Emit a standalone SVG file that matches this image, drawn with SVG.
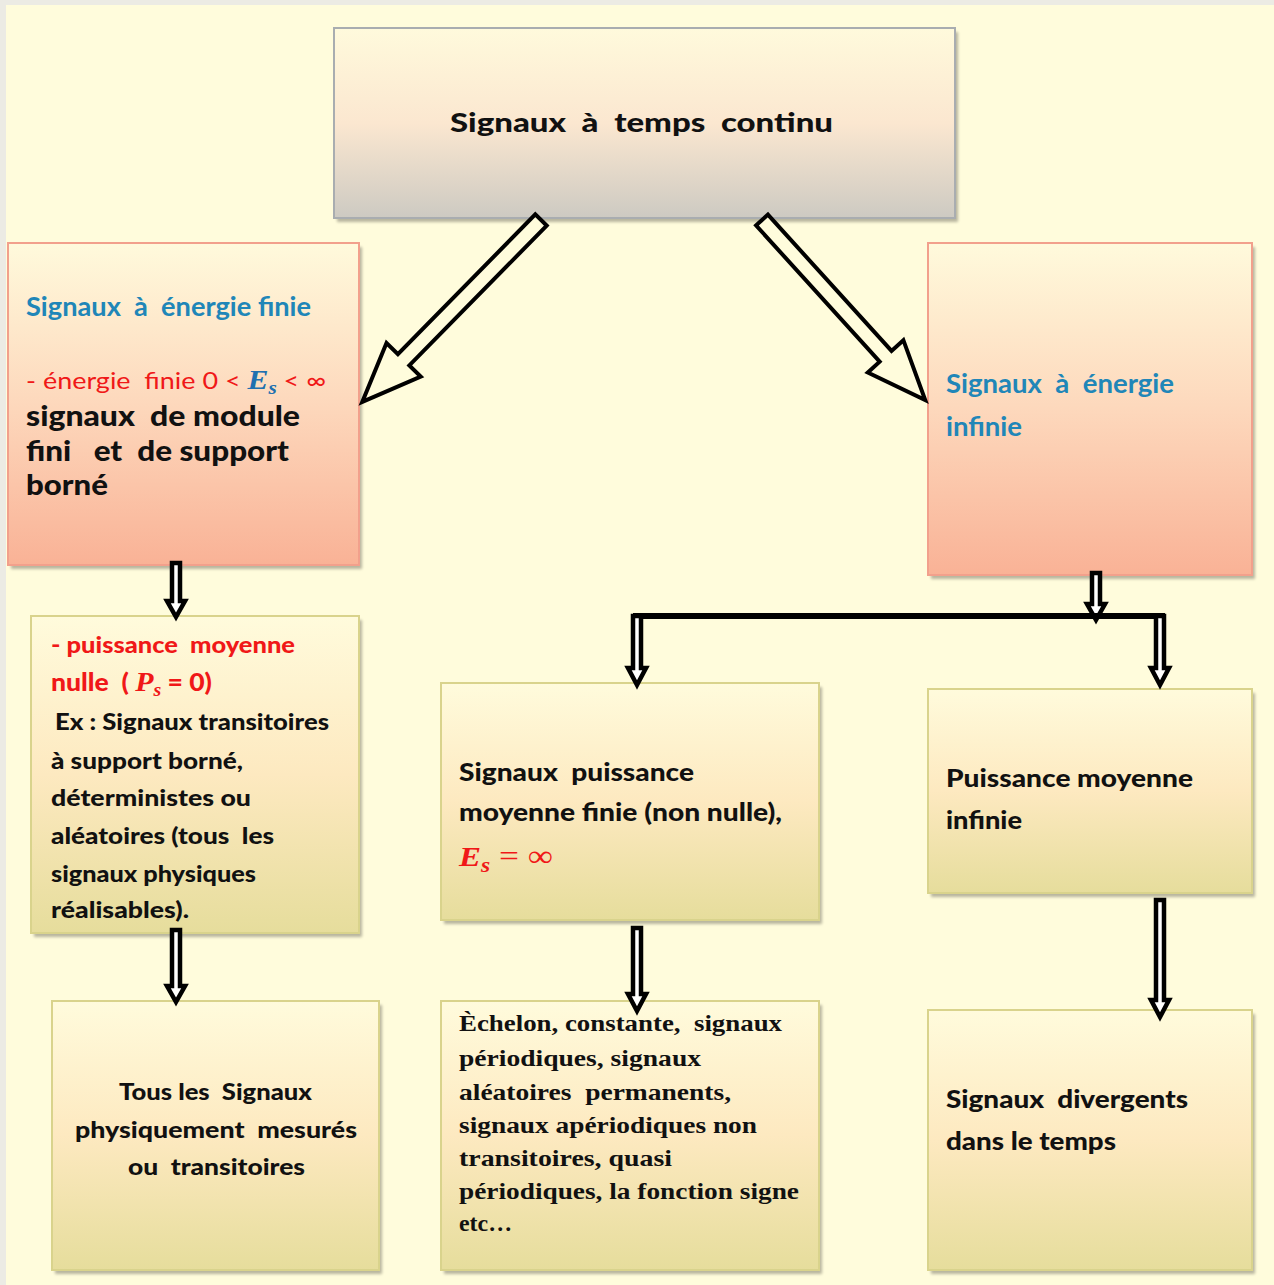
<svg xmlns="http://www.w3.org/2000/svg" width="1274" height="1285" viewBox="0 0 1274 1285">
<defs>
<linearGradient id="gTop" x1="0" y1="0" x2="0" y2="1">
<stop offset="0" stop-color="#fffadc"/><stop offset="0.5" stop-color="#fbe7d0"/><stop offset="1" stop-color="#cdcac2"/>
</linearGradient>
<linearGradient id="gPink" x1="0" y1="0" x2="0" y2="1">
<stop offset="0" stop-color="#fffadc"/><stop offset="0.5" stop-color="#fdd8bc"/><stop offset="1" stop-color="#f9b296"/>
</linearGradient>
<linearGradient id="gYel" x1="0" y1="0" x2="0" y2="1">
<stop offset="0" stop-color="#fffbdc"/><stop offset="0.5" stop-color="#fde9c0"/><stop offset="1" stop-color="#e6dd9c"/>
</linearGradient>
<filter id="blur" x="-5%" y="-5%" width="110%" height="110%"><feGaussianBlur stdDeviation="1.5"/></filter>
</defs>
<style>
.sh{fill:#000;opacity:0.28;filter:url(#blur)}
.top{fill:url(#gTop);stroke:#a9adb0;stroke-width:2}
.pink{fill:url(#gPink);stroke:#f2a08c;stroke-width:2}
.yel{fill:url(#gYel);stroke:#d9d38c;stroke-width:2}
text{font-family:Lato,"Noto Sans",sans-serif;font-weight:900;white-space:pre}
.blue{fill:#2086b8;font-size:26px;font-weight:bold}
.blk{fill:#111;font-size:25px}
.red{fill:#f01818}
.math{font-family:"Liberation Serif","DejaVu Serif",serif;font-style:italic;font-weight:bold}
.ser{font-family:"Liberation Serif","DejaVu Serif",serif;font-weight:bold;fill:#111;font-size:24px}
.big{fill:#fffcdc;stroke:#000;stroke-width:4;stroke-linejoin:miter}
.va{fill:#fff;stroke:#000;stroke-width:4.5;stroke-linejoin:miter}
</style>
<rect x="0" y="0" width="1274" height="1285" fill="#ecebe4"/>
<rect x="6" y="5" width="1268" height="1280" fill="#fffcdc"/>

<g id="n-top">
<rect class="sh" x="337" y="32" width="621" height="190"/>
<rect class="top" x="334" y="28" width="621" height="190"/>
<text x="450" y="132" textLength="383" lengthAdjust="spacingAndGlyphs" style="font-size:27px;fill:#111">Signaux  à  temps  continu</text>
</g>

<g id="n-finie">
<rect class="sh" x="11" y="247" width="351" height="322"/>
<rect class="pink" x="8" y="243" width="351" height="322"/>
<text class="blue" x="26" y="316" textLength="285" lengthAdjust="spacingAndGlyphs">Signaux  à  énergie finie</text>
<text x="26" y="389" textLength="300" lengthAdjust="spacingAndGlyphs" style="font-size:24px;font-weight:normal"><tspan class="red">- énergie  finie 0 &lt; </tspan><tspan class="math" fill="#2070b0" font-size="28">E</tspan><tspan class="math" fill="#2070b0" font-size="19" dy="5">s</tspan><tspan class="red" dy="-5"> &lt; ∞</tspan></text>
<text x="26" y="426" textLength="274" lengthAdjust="spacingAndGlyphs" style="font-size:29px;fill:#111">signaux  de module</text>
<text x="26" y="461" textLength="263" lengthAdjust="spacingAndGlyphs" style="font-size:29px;fill:#111">fini   et  de support</text>
<text x="26" y="495" textLength="82" lengthAdjust="spacingAndGlyphs" style="font-size:29px;fill:#111">borné</text>
</g>

<g id="n-infinie">
<rect class="sh" x="931" y="247" width="324" height="332"/>
<rect class="pink" x="928" y="243" width="324" height="332"/>
<text class="blue" x="946" y="393" textLength="228" lengthAdjust="spacingAndGlyphs">Signaux  à  énergie</text>
<text class="blue" x="946" y="436" textLength="76" lengthAdjust="spacingAndGlyphs">infinie</text>
</g>

<g id="n-nulle">
<rect class="sh" x="34" y="620" width="328" height="317"/>
<rect class="yel" x="31" y="616" width="328" height="317"/>
<text x="51" y="653" class="red" textLength="244" lengthAdjust="spacingAndGlyphs" style="font-size:23px">- puissance  moyenne</text>
<text x="51" y="691" class="red" textLength="161" lengthAdjust="spacingAndGlyphs" style="font-size:24px">nulle  ( <tspan class="math" font-size="27">P</tspan><tspan class="math" font-size="18" dy="5">s</tspan><tspan dy="-5"> = 0)</tspan></text>
<g style="font-size:23px;fill:#111">
<text x="55" y="730" textLength="274" lengthAdjust="spacingAndGlyphs">Ex : Signaux transitoires</text>
<text x="51" y="769" textLength="192" lengthAdjust="spacingAndGlyphs">à support borné,</text>
<text x="51" y="806" textLength="200" lengthAdjust="spacingAndGlyphs">déterministes ou</text>
<text x="51" y="844" textLength="223" lengthAdjust="spacingAndGlyphs">aléatoires (tous  les</text>
<text x="51" y="882" textLength="205" lengthAdjust="spacingAndGlyphs">signaux physiques</text>
<text x="51" y="918" textLength="138" lengthAdjust="spacingAndGlyphs">réalisables).</text>
</g>
</g>

<g id="n-finie-puiss">
<rect class="sh" x="444" y="687" width="378" height="237"/>
<rect class="yel" x="441" y="683" width="378" height="237"/>
<text class="blk" x="459" y="781" textLength="235" lengthAdjust="spacingAndGlyphs">Signaux  puissance</text>
<text class="blk" x="459" y="821" textLength="323" lengthAdjust="spacingAndGlyphs">moyenne finie (non nulle),</text>
<text x="459" y="866" class="red math" textLength="94" lengthAdjust="spacingAndGlyphs" style="font-size:28px">E<tspan font-size="20" dy="6">s</tspan><tspan dy="-6" style="font-style:normal;font-weight:normal;font-size:30px"> = ∞</tspan></text>
</g>

<g id="n-puiss-inf">
<rect class="sh" x="931" y="693" width="324" height="204"/>
<rect class="yel" x="928" y="689" width="324" height="204"/>
<text class="blk" x="946" y="787" textLength="247" lengthAdjust="spacingAndGlyphs">Puissance moyenne</text>
<text class="blk" x="946" y="829" textLength="76" lengthAdjust="spacingAndGlyphs">infinie</text>
</g>

<g id="n-tous">
<rect class="sh" x="55" y="1005" width="327" height="269"/>
<rect class="yel" x="52" y="1001" width="327" height="269"/>
<g style="font-size:23px;fill:#111">
<text x="119" y="1100" textLength="193" lengthAdjust="spacingAndGlyphs">Tous les  Signaux</text>
<text x="75" y="1138" textLength="282" lengthAdjust="spacingAndGlyphs">physiquement  mesurés</text>
<text x="128" y="1175" textLength="177" lengthAdjust="spacingAndGlyphs">ou  transitoires</text>
</g>
</g>

<g id="n-echelon">
<rect class="sh" x="444" y="1005" width="378" height="269"/>
<rect class="yel" x="441" y="1001" width="378" height="269"/>
<text class="ser" x="459" y="1031" textLength="323" lengthAdjust="spacingAndGlyphs">Èchelon, constante,  signaux</text>
<text class="ser" x="459" y="1066" textLength="242" lengthAdjust="spacingAndGlyphs">périodiques, signaux</text>
<text class="ser" x="459" y="1100" textLength="272" lengthAdjust="spacingAndGlyphs">aléatoires  permanents,</text>
<text class="ser" x="459" y="1133" textLength="298" lengthAdjust="spacingAndGlyphs">signaux apériodiques non</text>
<text class="ser" x="459" y="1166" textLength="213" lengthAdjust="spacingAndGlyphs">transitoires, quasi</text>
<text class="ser" x="459" y="1199" textLength="340" lengthAdjust="spacingAndGlyphs">périodiques, la fonction signe</text>
<text class="ser" x="459" y="1231" textLength="53" lengthAdjust="spacingAndGlyphs">etc…</text>
</g>

<g id="n-divergents">
<rect class="sh" x="931" y="1014" width="324" height="260"/>
<rect class="yel" x="928" y="1010" width="324" height="260"/>
<text class="blk" x="946" y="1108" textLength="242" lengthAdjust="spacingAndGlyphs">Signaux  divergents</text>
<text class="blk" x="946" y="1150" textLength="170" lengthAdjust="spacingAndGlyphs">dans le temps</text>
</g>

<g id="connectors">
<polygon class="big" transform="translate(541,220) rotate(134.5)" points="0,-8 196,-8 196,-24 255,0 196,24 196,8 0,8"/>
<polygon class="big" transform="translate(762,220) rotate(47.8)" points="0,-8 184,-8 184,-24 243,0 184,24 184,8 0,8"/>
<polygon class="va" points="172,563 180,563 180,601 185,601 176,617 167,601 172,601"/>
<polygon class="va" points="172,930 180,930 180,986 185,986 176,1002 167,986 172,986"/>
<polygon class="va" points="1092,573 1100,573 1100,604 1105,604 1096,620 1087,604 1092,604"/>
<line x1="633" y1="616" x2="1165" y2="616" stroke="#000" stroke-width="6"/>
<polygon class="va" points="633,616 641,616 641,668 646,668 637,685 628,668 633,668"/>
<polygon class="va" points="1156,616 1164,616 1164,668 1169,668 1160,685 1151,668 1156,668"/>
<polygon class="va" points="633,928 641,928 641,994 646,994 637,1011 628,994 633,994"/>
<polygon class="va" points="1156,900 1164,900 1164,1000 1169,1000 1160,1017 1151,1000 1156,1000"/>
</g>
</svg>
